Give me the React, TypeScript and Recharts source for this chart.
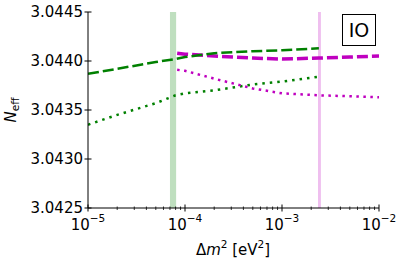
import React from "react";
import {
  ComposedChart,
  Line,
  XAxis,
  YAxis,
  ReferenceArea,
} from "recharts";

const FONT = "DejaVu Sans, Verdana, sans-serif";

// Δm² [eV²] vs N_eff, inverted ordering
const greenDashed = [
  { x: 1e-5, y: 3.04387 },
  { x: 2e-5, y: 3.04392 },
  { x: 5e-5, y: 3.04399 },
  { x: 8e-5, y: 3.04402 },
  { x: 1e-4, y: 3.04404 },
  { x: 2e-4, y: 3.04408 },
  { x: 5e-4, y: 3.0441 },
  { x: 1e-3, y: 3.04411 },
  { x: 2.4e-3, y: 3.04413 },
];

const greenDotted = [
  { x: 1e-5, y: 3.04335 },
  { x: 2e-5, y: 3.04345 },
  { x: 5e-5, y: 3.04357 },
  { x: 8e-5, y: 3.04365 },
  { x: 1e-4, y: 3.04367 },
  { x: 2e-4, y: 3.0437 },
  { x: 5e-4, y: 3.04376 },
  { x: 1e-3, y: 3.04379 },
  { x: 2.4e-3, y: 3.04384 },
];

const magentaDashed = [
  { x: 8.3e-5, y: 3.04408 },
  { x: 1e-4, y: 3.04407 },
  { x: 2e-4, y: 3.04405 },
  { x: 5e-4, y: 3.04403 },
  { x: 1e-3, y: 3.04402 },
  { x: 2.4e-3, y: 3.04403 },
  { x: 5e-3, y: 3.04404 },
  { x: 1e-2, y: 3.04405 },
];

const magentaDotted = [
  { x: 8.3e-5, y: 3.04391 },
  { x: 1e-4, y: 3.0439 },
  { x: 2e-4, y: 3.04382 },
  { x: 5e-4, y: 3.04372 },
  { x: 1e-3, y: 3.04367 },
  { x: 2.4e-3, y: 3.04365 },
  { x: 5e-3, y: 3.04364 },
  { x: 1e-2, y: 3.04363 },
];

const greenBand = [7e-5, 8.1e-5];
const pinkBand = [2.35e-3, 2.52e-3];

const xMajor = [1e-5, 1e-4, 1e-3, 1e-2];
const xMinor = [1e-5, 1e-4, 1e-3].flatMap((d) =>
  [2, 3, 4, 5, 6, 7, 8, 9].map((k) => k * d)
);
const xTicks = [...xMajor, ...xMinor];
const yTicks = [3.0425, 3.043, 3.0435, 3.044, 3.0445];

const GREEN = "#008000";
const MAGENTA = "#bf00bf";

const isMajor = (v: number) => xMajor.some((m) => Math.abs(m - v) / m < 1e-6);

function BottomTick({ x, y, payload }: any) {
  const major = isMajor(payload.value);
  const exp = Math.round(Math.log10(payload.value));
  return (
    <g>
      <line x1={x} x2={x} y1={major ? y - 3.5 : y - 1.5} y2={major ? y + 3.5 : y + 2}
        stroke="#000" strokeWidth={major ? 1 : 0.8} />
      {major && (
        <text x={x} y={y + 22} textAnchor="middle" fontFamily={FONT} fontSize={15} fill="#000">
          10
          <tspan fontSize={10.5} dy={-8}>{"\u2212" + Math.abs(exp)}</tspan>
        </text>
      )}
    </g>
  );
}

function TopTick({ x, y, payload }: any) {
  const major = isMajor(payload.value);
  return (
    <line x1={x} x2={x} y1={major ? y - 3.5 : y - 2} y2={major ? y + 3.5 : y + 1.5}
      stroke="#000" strokeWidth={major ? 1 : 0.8} />
  );
}

function LeftTick({ x, y, payload }: any) {
  return (
    <g>
      <line x1={x - 3.5} x2={x + 3.5} y1={y} y2={y} stroke="#000" strokeWidth={1} />
      <text x={x - 5} y={y} dy="0.36em" textAnchor="end" fontFamily={FONT} fontSize={15} fill="#000">
        {payload.value.toFixed(4)}
      </text>
    </g>
  );
}

function RightTick({ x, y }: any) {
  return <line x1={x - 3.5} x2={x + 3.5} y1={y} y2={y} stroke="#000" strokeWidth={1} />;
}

export default function App() {
  return (
    <div style={{ position: "absolute", left: 0, top: 0, width: 404, height: 270, background: "#fff" }}>
      <ComposedChart width={404} height={270} margin={{ top: 12, right: 25, left: 0, bottom: 0 }}>
        <XAxis
          xAxisId="b"
          type="number"
          dataKey="x"
          scale="log"
          domain={[1e-5, 1e-2]}
          allowDataOverflow
          ticks={xTicks}
          interval={0}
          tick={<BottomTick />}
          tickLine={false}
          tickSize={0}
          tickMargin={0}
          height={62}
          axisLine={{ stroke: "#000", strokeWidth: 1 }}
        />
        <XAxis
          xAxisId="t"
          orientation="top"
          type="number"
          dataKey="x"
          scale="log"
          domain={[1e-5, 1e-2]}
          allowDataOverflow
          ticks={xTicks}
          interval={0}
          tick={<TopTick />}
          tickLine={false}
          tickSize={0}
          tickMargin={0}
          height={0}
          axisLine={{ stroke: "#000", strokeWidth: 1 }}
        />
        <YAxis
          yAxisId="l"
          type="number"
          domain={[3.0425, 3.0445]}
          allowDataOverflow
          ticks={yTicks}
          interval={0}
          tick={<LeftTick />}
          tickLine={false}
          tickSize={0}
          tickMargin={0}
          width={88}
          axisLine={{ stroke: "#000", strokeWidth: 1 }}
        />
        <YAxis
          yAxisId="r"
          orientation="right"
          type="number"
          domain={[3.0425, 3.0445]}
          allowDataOverflow
          ticks={yTicks}
          interval={0}
          tick={<RightTick />}
          tickLine={false}
          tickSize={0}
          tickMargin={0}
          width={0}
          axisLine={{ stroke: "#000", strokeWidth: 1 }}
        />
        <ReferenceArea xAxisId="b" yAxisId="l" x1={greenBand[0]} x2={greenBand[1]}
          y1={3.0425} y2={3.0445} fill={GREEN} fillOpacity={0.25} stroke="none" ifOverflow="hidden" />
        <ReferenceArea xAxisId="b" yAxisId="l" x1={pinkBand[0]} x2={pinkBand[1]}
          y1={3.0425} y2={3.0445} fill={MAGENTA} fillOpacity={0.25} stroke="none" ifOverflow="hidden" />
        <Line xAxisId="b" yAxisId="l" data={greenDotted} dataKey="y" type="linear" stroke={GREEN}
          strokeWidth={2.5} strokeDasharray="2.5 5" dot={false} isAnimationActive={false} />
        <Line xAxisId="b" yAxisId="l" data={magentaDotted} dataKey="y" type="linear" stroke={MAGENTA}
          strokeWidth={2.5} strokeDasharray="2.5 4.5" dot={false} isAnimationActive={false} />
        <Line xAxisId="b" yAxisId="l" data={magentaDashed} dataKey="y" type="linear" stroke={MAGENTA}
          strokeWidth={3.5} strokeDasharray="11 4" dot={false} isAnimationActive={false} />
        <Line xAxisId="b" yAxisId="l" data={greenDashed} dataKey="y" type="linear" stroke={GREEN}
          strokeWidth={2.5} strokeDasharray="11 4" dot={false} isAnimationActive={false} />
      </ComposedChart>
      <div style={{ position: "absolute", left: 12, top: 110, transform: "translate(-50%, -50%) rotate(-90deg)",
        fontFamily: FONT, fontSize: 15, whiteSpace: "nowrap", lineHeight: 1 }}>
        <i>N</i><sub style={{ fontSize: 10.5, verticalAlign: "-3px" }}>eff</sub>
      </div>
      <div style={{ position: "absolute", left: 233, top: 248, transform: "translate(-50%, -50%)",
        fontFamily: FONT, fontSize: 15, whiteSpace: "nowrap", lineHeight: 1 }}>
        Δ<i>m</i><sup style={{ fontSize: 10.5, verticalAlign: "7px" }}>2</sup> [eV<sup style={{ fontSize: 10.5, verticalAlign: "7px" }}>2</sup>]
      </div>
      <div style={{ position: "absolute", left: 342, top: 14, width: 34, height: 32, boxSizing: "border-box",
        border: "1.5px solid #000", background: "#fff", display: "flex", alignItems: "center",
        justifyContent: "center", fontFamily: FONT, fontSize: 19 }}>
        IO
      </div>
    </div>
  );
}
